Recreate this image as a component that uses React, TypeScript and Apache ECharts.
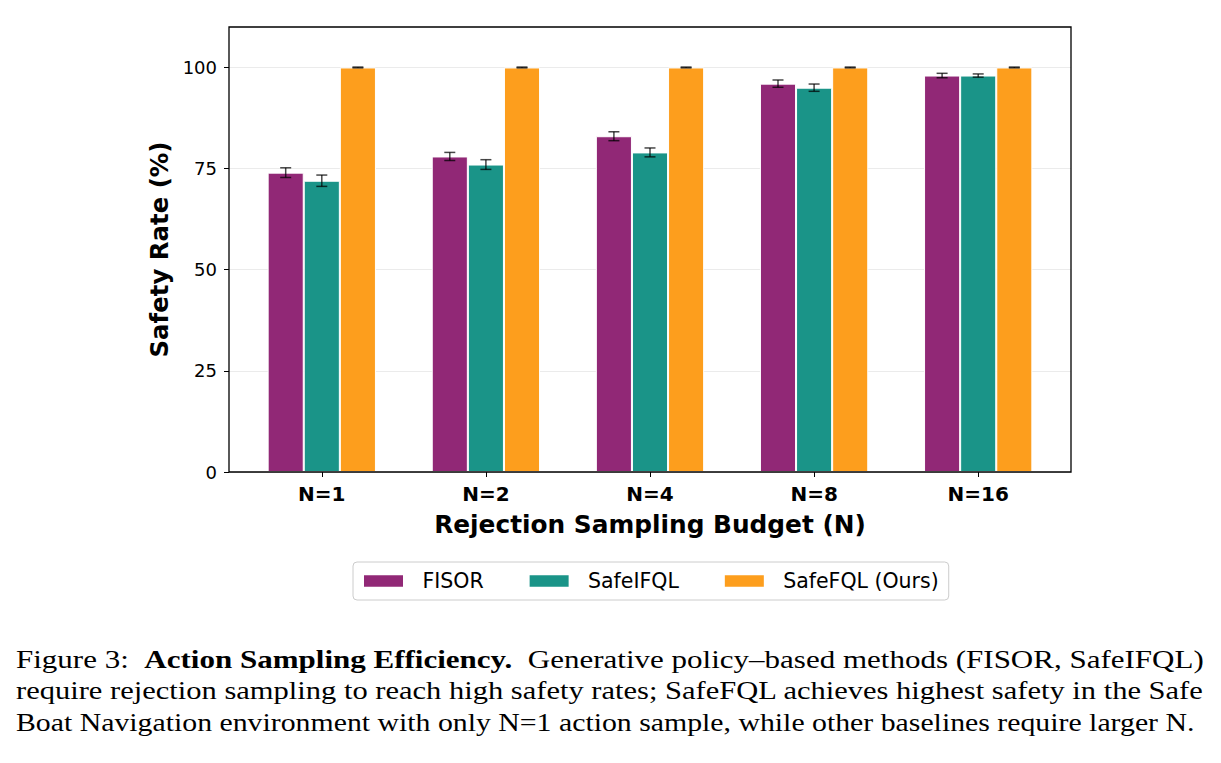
import React, { useEffect, useRef } from "react";
import * as echarts from "echarts";

// Rejection sampling budgets on the x axis
const categories = ["N=1", "N=2", "N=4", "N=8", "N=16"];
const seriesNames = ["FISOR", "SafeIFQL", "SafeFQL (Ours)"];
const seriesColors = ["#912876", "#1A9488", "#FD9E1D"];

// Safety rate (%) means and half-widths of the error bars
const fisorMean = [74, 78, 83, 96, 98];
const fisorErr = [1.2, 1.0, 1.1, 0.9, 0.55];
const safeIfqlMean = [72, 76, 79, 95, 98];
const safeIfqlErr = [1.4, 1.2, 1.1, 0.9, 0.4];
const safeFqlMean = [100, 100, 100, 100, 100];
const safeFqlErr = [0.1, 0.1, 0.1, 0.1, 0.1];

const yTicks = [0, 25, 50, 75, 100];

const captionNormal1 = "Figure 3:  ";
const captionBold1 = "Action Sampling Efficiency.";
const captionNormal1b = "  Generative policy–based methods (FISOR, SafeIFQL)";
const captionLine2 =
  "require rejection sampling to reach high safety rates; SafeFQL achieves highest safety in the Safe";
const captionLine3 =
  "Boat Navigation environment with only N=1 action sample, while other baselines require larger N.";

const SANS = "'DejaVu Sans', sans-serif";
const SERIF = "'Liberation Serif', 'Times New Roman', serif";

function measure(text: string, font: string): number {
  const c = document.createElement("canvas");
  const ctx = c.getContext("2d");
  if (!ctx) return text.length * 10;
  ctx.font = font;
  return ctx.measureText(text).width;
}

export default function App() {
  const ref = useRef<HTMLDivElement>(null);

  useEffect(() => {
    if (!ref.current) return;
    const chart = echarts.init(ref.current, undefined, { renderer: "svg" });

    const means = [fisorMean, safeIfqlMean, safeFqlMean];
    const errs = [fisorErr, safeIfqlErr, safeFqlErr];

    // plot frame (axes box)
    const frame = { left: 229, top: 27, width: 842, height: 445 };
    const band = 164.1;
    const barW = band * 0.22;
    const offsets = [-barW, 0, barW];

    const barSeries = seriesNames.map((name, i) => ({
      name,
      type: "bar",
      xAxisIndex: 1,
      yAxisIndex: 1,
      data: means[i],
      barWidth: barW,
      barGap: "0%",
      itemStyle: { color: seriesColors[i], borderColor: "#ffffff", borderWidth: 1 },
      z: 2,
    }));

    const errSeries = seriesNames.map((name, i) => ({
      name: name + " error",
      type: "custom",
      xAxisIndex: 1,
      yAxisIndex: 1,
      z: 4,
      silent: true,
      data: means[i].map((m, k) => [k, m - errs[i][k], m + errs[i][k]]),
      renderItem: (params: any, api: any) => {
        const lo = api.coord([api.value(0), api.value(1)]);
        const hi = api.coord([api.value(0), api.value(2)]);
        const x = lo[0] + offsets[i];
        const cap = 5.5;
        const st = { stroke: "rgba(0,0,0,0.72)", lineWidth: 1.5 };
        return {
          type: "group",
          children: [
            { type: "line", shape: { x1: x, y1: lo[1], x2: x, y2: hi[1] }, style: st },
            { type: "line", shape: { x1: x - cap, y1: lo[1], x2: x + cap, y2: lo[1] }, style: st },
            { type: "line", shape: { x1: x - cap, y1: hi[1], x2: x + cap, y2: hi[1] }, style: st },
          ],
        };
      },
    }));

    // caption, each line fitted to the text block width
    const fs = 26;
    const fN = `normal ${fs}px ${SERIF}`;
    const fB = `bold ${fs}px ${SERIF}`;
    const w1 = measure(captionNormal1, fN) + measure(captionBold1, fB) + measure(captionNormal1b, fN);
    const w2 = measure(captionLine2, fN);
    const w3 = measure(captionLine3, fN);
    const capLeft = 16;
    const s1 = (1204 - capLeft) / w1;
    const s2 = (1204 - capLeft) / w2;
    const s3 = (1195 - capLeft) / w3;
    const baseOff = 0.3375 * fs;

    const textBase = { fontSize: fs, fontFamily: SERIF, fill: "#000", verticalAlign: "middle", align: "left" };

    chart.setOption({
      animation: false,
      backgroundColor: "#ffffff",
      grid: [
        { left: frame.left, top: frame.top, width: frame.width, height: frame.height, show: false },
        {
          left: frame.left + frame.width / 2 - (band * 5) / 2,
          top: frame.top,
          width: band * 5,
          height: frame.height,
          show: false,
        },
      ],
      xAxis: [
        { gridIndex: 0, type: "value", min: 0, max: 1, show: false },
        {
          gridIndex: 1,
          type: "category",
          data: categories,
          axisLine: { show: false },
          axisTick: { show: true, alignWithLabel: true, length: 5, lineStyle: { color: "#000", width: 1 } },
          axisLabel: { fontSize: 20, fontWeight: "bold", color: "#000", fontFamily: SANS, margin: 12 },
          splitLine: { show: false },
          name: "Rejection Sampling Budget (N)",
          nameLocation: "middle",
          nameGap: 40,
          nameTextStyle: { fontSize: 24.8, fontWeight: "bold", color: "#000", fontFamily: SANS },
        },
      ],
      yAxis: [
        {
          gridIndex: 0,
          type: "value",
          min: 0,
          max: 110,
          interval: 25,
          axisLine: { show: false },
          axisTick: { show: true, length: 5, customValues: yTicks, lineStyle: { color: "#000", width: 1 } },
          axisLabel: { customValues: yTicks, fontSize: 18, color: "#000", fontFamily: SANS, margin: 12 },
          splitLine: { show: true, lineStyle: { color: "#ebebeb", width: 1 } },
          name: "Safety Rate (%)",
          nameLocation: "middle",
          nameGap: 58,
          nameTextStyle: { fontSize: 24.4, fontWeight: "bold", color: "#000", fontFamily: SANS },
        },
        { gridIndex: 1, type: "value", min: 0, max: 110, show: false },
      ],
      legend: {
        data: seriesNames,
        left: 353,
        top: 562,
        orient: "horizontal",
        itemWidth: 41,
        itemHeight: 13.5,
        itemGap: 44,
        padding: [8.5, 10, 8.5, 9],
        borderColor: "#cccccc",
        borderWidth: 1,
        borderRadius: 4,
        icon: "rect",
        textStyle: { fontSize: 20.5, color: "#000", fontFamily: SANS, padding: [0, 0, 0, 13.4] },
      },
      series: [...barSeries, ...errSeries],
      graphic: [
        {
          type: "rect",
          z: 100,
          silent: true,
          shape: { x: frame.left, y: frame.top, width: frame.width, height: frame.height },
          style: { fill: "none", stroke: "#000", lineWidth: 1.3 },
        },
        {
          type: "text",
          x: capLeft,
          y: 668.3 - baseOff,
          scaleX: s1,
          style: {
            ...textBase,
            text: `{n|${captionNormal1}}{b|${captionBold1}}{n|${captionNormal1b}}`,
            rich: {
              n: { fontSize: fs, fontFamily: SERIF, fill: "#000", fontWeight: "normal" },
              b: { fontSize: fs, fontFamily: SERIF, fill: "#000", fontWeight: "bold" },
            },
          },
        },
        {
          type: "text",
          x: capLeft,
          y: 699.5 - baseOff,
          scaleX: s2,
          style: { ...textBase, text: captionLine2 },
        },
        {
          type: "text",
          x: capLeft,
          y: 730.7 - baseOff,
          scaleX: s3,
          style: { ...textBase, text: captionLine3 },
        },
      ],
    });

    return () => chart.dispose();
  }, []);

  return (
    <div
      ref={ref}
      style={{ position: "absolute", left: 0, top: 0, width: 1221, height: 763, background: "#fff" }}
    />
  );
}
